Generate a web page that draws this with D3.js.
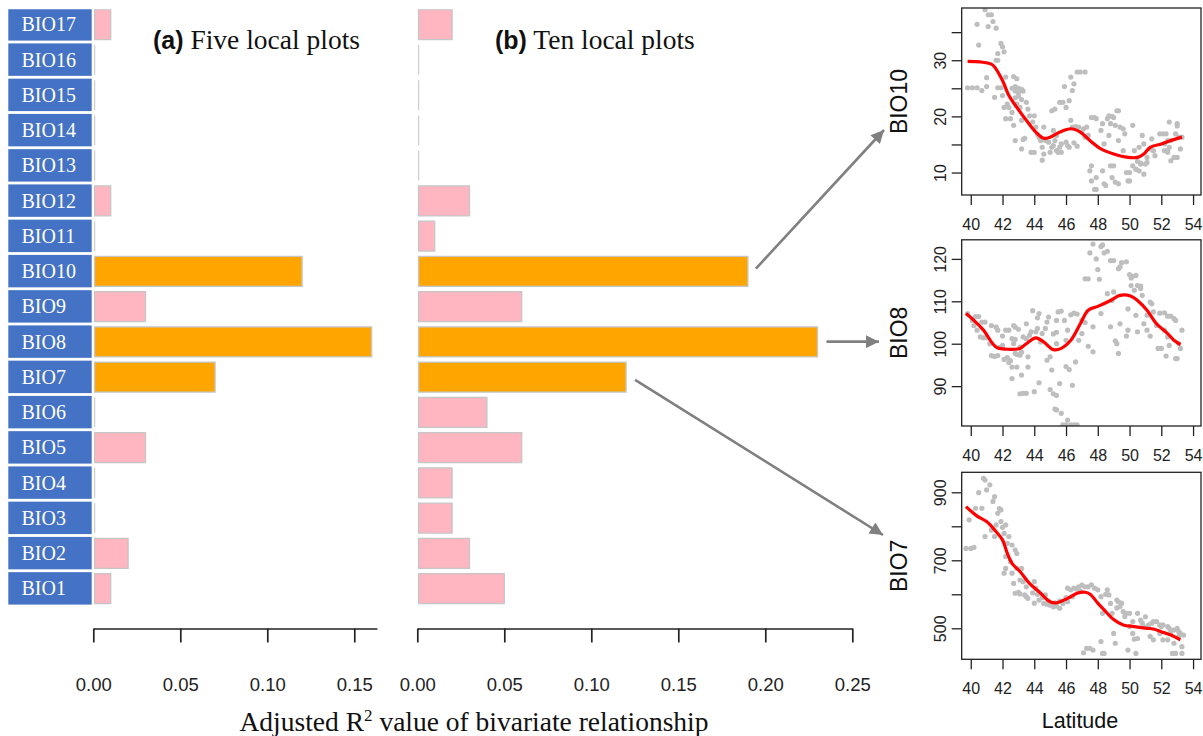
<!DOCTYPE html>
<html><head><meta charset="utf-8">
<script src="https://cdn.jsdelivr.net/npm/d3@7"></script>
<style>body{margin:0;background:#fff}svg{display:block}</style>
</head><body>
<svg id="c" width="1203" height="736"></svg>
<script>
// ---------- data ----------
const categories = ["BIO17","BIO16","BIO15","BIO14","BIO13","BIO12","BIO11","BIO10","BIO9","BIO8","BIO7","BIO6","BIO5","BIO4","BIO3","BIO2","BIO1"];
const fivePlots = [0.01,0,0,0,0,0.01,0,0.12,0.03,0.16,0.07,0,0.03,0,0,0.02,0.01];
const tenPlots  = [0.02,0,0,0,0,0.03,0.01,0.19,0.06,0.23,0.12,0.04,0.06,0.02,0.02,0.03,0.05];
const highlighted = ["BIO10","BIO8","BIO7"];
const ticksA = [0,0.05,0.10,0.15];
const ticksB = [0,0.05,0.10,0.15,0.20,0.25];
const latTicks = [40,42,44,46,48,50,52,54];

const bio10Ticks = [10,15,20,25,30,35];
const bio10Labels = [10,20,30];
const bio8Ticks = [90,100,110,120];
const bio8Labels = [90,100,110,120];
const bio7Ticks = [500,600,700,800,900];
const bio7Labels = [500,700,900];

const bio10Points = [[39.8,25.1],[40.1,25.1],[40.4,25.1],[40.4,36.4],[40.5,32.7],[40.7,24.6],[41.0,26.9],[41.0,25.3],[40.9,39.0],[41.1,38.1],[41.3,38.1],[41.1,36.0],[41.4,36.9],[41.6,35.7],[41.5,23.4],[41.7,25.1],[41.9,33.0],[42.0,32.4],[42.1,31.5],[41.7,31.2],[41.6,30.0],[41.7,30.0],[41.9,25.1],[42.2,27.0],[42.0,23.7],[42.1,21.6],[42.3,22.2],[42.4,21.6],[42.2,19.6],[42.5,19.6],[42.6,20.7],[42.7,27.1],[42.9,26.7],[42.6,25.0],[42.8,25.3],[43.0,25.0],[42.8,24.5],[43.0,24.2],[43.2,24.8],[43.3,24.5],[42.8,23.3],[43.0,23.6],[43.2,23.0],[42.9,22.2],[43.1,21.6],[42.7,18.4],[42.8,15.7],[43.2,19.3],[43.3,15.9],[43.4,16.1],[43.2,14.2],[43.5,22.5],[43.6,21.3],[43.7,20.1],[43.9,19.0],[44.0,20.1],[43.8,13.6],[44.0,13.6],[44.2,16.8],[44.3,16.3],[44.4,15.7],[44.1,18.1],[44.6,18.1],[44.5,14.5],[44.6,13.3],[44.5,12.2],[44.7,15.7],[44.9,15.4],[45.1,21.0],[45.3,21.3],[45.2,17.5],[45.1,14.5],[45.2,14.8],[45.0,13.6],[45.4,13.9],[45.5,13.6],[45.6,14.5],[45.3,15.7],[45.4,16.6],[45.7,15.1],[45.6,22.5],[45.8,22.5],[45.9,25.3],[46.0,21.6],[46.2,22.8],[45.7,13.6],[46.0,15.4],[46.1,14.8],[46.2,14.5],[46.3,27.0],[46.4,24.6],[46.5,25.8],[46.3,19.3],[46.4,18.1],[46.6,18.2],[46.8,18.1],[46.5,15.3],[46.7,14.7],[46.7,27.9],[46.9,27.9],[47.2,27.9],[47.0,17.2],[47.1,17.8],[47.2,16.3],[47.3,18.1],[47.4,16.6],[47.6,19.8],[47.8,19.8],[47.6,11.2],[47.5,10.3],[47.6,8.5],[47.8,7.0],[47.9,7.0],[47.9,19.6],[47.9,9.1],[48.2,17.5],[48.3,18.7],[48.3,10.3],[48.4,8.0],[48.5,7.7],[48.6,19.6],[48.7,20.1],[48.9,20.0],[49.0,19.8],[48.8,18.7],[48.4,15.1],[48.7,16.6],[48.8,11.2],[49.0,11.2],[48.9,9.1],[49.1,18.4],[49.2,21.0],[49.3,21.0],[49.3,15.7],[49.1,8.3],[49.3,8.0],[49.4,18.1],[49.6,17.8],[49.8,10.0],[50.0,10.0],[49.6,13.9],[49.9,8.5],[50.0,8.5],[49.7,16.9],[50.2,18.4],[50.3,13.9],[50.2,11.2],[50.4,10.6],[50.6,10.3],[50.5,12.0],[50.7,11.7],[50.7,11.5],[50.6,14.5],[50.8,16.6],[50.9,15.1],[51.0,11.5],[51.1,11.8],[50.9,9.7],[51.1,12.7],[51.3,14.2],[51.5,13.9],[51.4,16.0],[51.6,13.0],[51.9,16.9],[52.1,16.9],[52.3,16.9],[52.2,15.1],[52.4,15.7],[52.2,13.9],[52.4,13.9],[52.5,14.5],[52.4,13.6],[52.5,19.0],[52.6,15.7],[52.6,12.1],[52.8,12.7],[53.0,18.7],[53.0,18.3],[52.9,16.9],[53.0,12.7],[53.1,16.3],[53.2,14.2],[53.3,16.3]];
const bio10Curve = [[39.8,29.8],[40.6,29.7],[41.3,29.3],[41.5,28.8],[42.0,26.4],[42.4,23.7],[42.9,21.6],[43.5,19.3],[44.1,17.2],[44.6,16.1],[45.0,16.3],[45.6,17.2],[46.3,17.8],[46.9,17.2],[47.5,15.7],[48.2,14.2],[49.0,13.3],[49.9,12.7],[50.5,12.7],[50.9,13.3],[51.3,14.5],[52.0,15.1],[52.6,15.7],[53.3,16.3]];

const bio8Points = [[39.8,107.1],[40.1,105.5],[40.3,106.4],[40.5,106.4],[40.2,104.3],[40.4,103.2],[40.7,105.1],[40.9,105.1],[40.6,101.6],[40.8,101.4],[41.0,101.4],[41.2,100.0],[41.3,104.3],[41.6,103.9],[41.3,97.2],[41.5,97.0],[41.7,97.2],[41.7,103.2],[41.8,99.1],[42.0,99.6],[42.0,101.8],[42.1,96.3],[42.3,96.7],[42.2,103.2],[42.4,95.6],[42.5,96.0],[42.4,103.2],[42.6,94.5],[42.7,104.3],[42.8,103.9],[42.6,101.2],[42.8,101.0],[42.7,100.0],[42.9,97.5],[43.1,97.3],[42.8,97.7],[42.6,91.8],[42.9,94.5],[43.0,103.4],[43.1,99.2],[43.2,98.0],[43.1,88.2],[43.3,88.3],[43.5,88.3],[43.2,92.6],[43.3,101.6],[43.5,104.7],[43.5,101.2],[43.7,102.0],[43.8,102.8],[43.9,107.8],[43.6,96.9],[43.6,94.5],[44.0,88.7],[44.1,102.8],[44.2,103.6],[44.2,106.1],[44.3,107.1],[44.4,100.4],[44.5,102.4],[44.3,90.8],[44.7,103.6],[44.8,105.1],[44.9,106.3],[44.8,96.1],[45.0,96.9],[45.1,93.8],[45.0,89.2],[45.2,88.2],[45.4,87.8],[45.2,102.3],[45.4,102.7],[45.4,105.5],[45.5,107.5],[45.7,107.7],[45.4,100.0],[45.6,90.6],[45.3,84.6],[45.4,84.4],[45.7,83.6],[45.8,80.9],[46.0,80.9],[46.1,82.0],[46.3,80.9],[46.5,80.9],[46.7,80.9],[46.0,94.6],[46.2,93.9],[45.9,105.5],[46.1,103.2],[46.0,100.8],[46.3,106.8],[46.5,107.2],[46.7,107.0],[46.4,90.2],[46.6,95.7],[46.8,100.8],[47.0,102.4],[47.0,105.5],[47.2,105.0],[47.2,115.3],[47.4,115.3],[47.4,99.4],[47.5,121.4],[47.7,123.5],[47.9,120.0],[48.0,117.5],[48.1,115.2],[47.7,98.1],[47.7,104.0],[48.2,107.1],[48.2,122.9],[48.3,123.3],[48.4,121.4],[48.6,121.8],[48.8,104.0],[48.6,111.8],[48.8,119.6],[49.0,119.6],[48.9,110.2],[49.0,112.2],[49.1,100.7],[49.2,100.0],[49.3,97.7],[49.3,117.7],[49.4,118.1],[49.4,104.7],[49.5,119.1],[49.8,119.3],[49.9,108.2],[49.9,103.2],[49.8,101.8],[50.0,116.3],[50.1,115.5],[50.1,113.7],[50.2,115.9],[50.4,116.1],[50.3,112.6],[50.4,106.7],[50.5,102.8],[50.5,113.7],[50.7,113.6],[50.7,113.0],[50.8,111.4],[50.9,104.7],[51.1,106.7],[51.1,103.2],[51.3,101.8],[51.3,109.8],[51.4,109.4],[51.5,107.5],[51.7,104.3],[51.8,98.9],[52.0,98.9],[51.9,107.2],[52.2,107.3],[52.2,103.2],[52.4,106.5],[52.6,106.5],[52.4,101.6],[52.3,97.1],[52.5,99.6],[52.8,105.9],[52.9,105.5],[52.9,96.5],[53.0,96.5],[53.1,100.0],[53.2,98.9],[53.3,103.2]];
const bio8Curve = [[39.7,107.1],[40.2,105.5],[40.8,103.2],[41.6,99.2],[42.3,98.7],[43.1,98.9],[43.5,100.0],[44.1,101.4],[44.6,100.4],[45.2,98.6],[45.7,98.9],[46.3,100.8],[46.9,104.7],[47.4,107.9],[48.0,108.8],[48.8,110.2],[49.4,111.4],[50.1,111.2],[50.5,110.2],[51.1,107.9],[51.7,104.7],[52.4,102.4],[52.8,100.8],[53.2,99.8]];

const bio7Points = [[39.7,735],[40.0,735],[40.2,738],[39.9,819],[40.3,853],[40.5,899],[40.8,941],[40.7,853],[40.9,770],[40.9,936],[41.0,907],[41.2,922],[41.4,873],[41.3,789],[41.5,887],[41.6,804],[41.5,770],[41.7,838],[41.8,852],[41.9,848],[41.9,814],[42.1,779],[42.2,804],[42.0,797],[42.3,750],[42.2,711],[42.1,662],[42.2,676],[42.4,770],[42.6,745],[42.8,730],[42.9,720],[42.5,696],[42.6,662],[42.7,632],[42.9,676],[42.8,603],[43.0,606],[43.1,601],[43.1,642],[43.2,676],[43.3,637],[43.4,598],[43.5,593],[43.5,622],[43.6,588],[43.9,604],[44.0,574],[44.0,637],[44.1,618],[44.3,583],[44.6,573],[44.8,571],[44.7,598],[45.0,568],[45.2,563],[45.4,565],[45.6,559],[45.8,573],[46.1,618],[46.3,613],[46.5,618],[46.7,615],[46.1,578],[46.4,593],[46.8,622],[47.0,627],[47.2,622],[47.4,622],[47.3,441],[47.5,441],[47.7,436],[47.1,428],[48.0,613],[48.2,593],[48.3,544],[48.2,461],[48.3,426],[48.4,426],[48.6,613],[48.7,598],[48.8,573],[48.9,544],[49.0,485],[49.1,456],[49.2,583],[49.3,578],[49.4,564],[49.5,574],[49.6,549],[49.8,544],[50.0,544],[50.0,505],[50.2,485],[49.9,436],[50.3,468],[50.5,470],[50.4,426],[50.5,544],[50.7,524],[50.9,505],[51.0,534],[51.2,510],[51.3,476],[51.5,466],[51.5,520],[51.7,520],[51.9,510],[52.1,510],[51.9,485],[52.1,466],[52.4,505],[52.4,466],[52.6,490],[52.7,426],[52.9,426],[52.8,456],[53.0,500],[53.1,476],[53.3,446],[53.3,426],[53.2,485],[44.2,600],[44.5,590],[44.9,580],[45.3,575],[45.6,580],[46.0,590],[46.9,610],[47.6,628],[47.8,618],[48.5,600],[49.2,560],[49.7,535],[50.2,520],[50.8,515],[51.4,515],[52.0,505],[52.5,500],[52.8,495],[53.1,490],[53.4,480]];
const bio7Curve = [[39.7,858],[40.4,830],[41.0,814],[41.6,784],[42.0,760],[42.3,721],[42.6,691],[43.1,667],[43.7,632],[44.4,603],[45.0,578],[45.4,575],[46.1,588],[46.7,603],[47.2,606],[47.5,601],[48.0,574],[48.4,554],[49.0,526],[49.6,510],[50.3,505],[51.1,500],[51.5,498],[52.0,490],[52.6,480],[53.2,466]];

// ---------- drawing ----------
const SERIF = "'Liberation Serif','Times New Roman',serif";
const SANS = "'Liberation Sans',Arial,sans-serif";
const svg = d3.select("#c");
const defs = svg.append("defs");
defs.append("clipPath").attr("id","clipTop").append("rect").attr("x",0).attr("y",9.3).attr("width",900).attr("height",700);
defs.append("marker").attr("id","arr").attr("viewBox","0 0 10 10").attr("refX",10).attr("refY",5)
  .attr("markerWidth",6).attr("markerHeight",5).attr("markerUnits","strokeWidth").attr("orient","auto")
  .append("path").attr("d","M0,0 L10,5 L0,10 Z").attr("fill","#808080");

const y = d3.scaleBand().domain(categories).range([6.75, 606]).paddingInner(0.08).paddingOuter(0.04);
const xA = d3.scaleLinear().domain([0, 0.163]).range([93.3, 376.9]);
const xB = d3.scaleLinear().domain([0, 0.25]).range([417.3, 852.3]);

const left = svg.append("g").attr("clip-path","url(#clipTop)");
left.append("g").selectAll("rect").data(categories).join("rect")
  .attr("x",8.3).attr("y",d=>y(d)).attr("width",83.4).attr("height",y.bandwidth()).attr("fill","#4472C4");
left.append("g").selectAll("text").data(categories).join("text")
  .attr("x",21.5).attr("y",d=>y(d)+y.bandwidth()/2+7).attr("fill","#fff")
  .attr("font-family",SERIF).attr("font-size",20).text(d=>d);

function drawBars(vals, x){
  const data = categories.map((c,i)=>({c, v: vals[i]}));
  const g = left.append("g");
  g.selectAll("rect").data(data.filter(d=>d.v>0)).join("rect")
    .attr("x", x(0)+1.3).attr("y", d=>y(d.c)+1.5)
    .attr("width", d=>x(d.v)-x(0)-1.3).attr("height", y.bandwidth()-2.5)
    .attr("fill", d=>highlighted.includes(d.c) ? "#FFA500" : "#FFB6C1")
    .attr("stroke","#C6C6C6").attr("stroke-width",1.3);
  g.selectAll("line").data(data.filter(d=>d.v===0)).join("line")
    .attr("x1", x(0)+1.3).attr("x2", x(0)+1.3)
    .attr("y1", d=>y(d.c)+1.5).attr("y2", d=>y(d.c)+y.bandwidth()-1)
    .attr("stroke","#CFCFCF").attr("stroke-width",1.3);
}
drawBars(fivePlots, xA);
drawBars(tenPlots, xB);

function drawAxis(x, ticks){
  const g = svg.append("g").attr("transform","translate(0,628.5)")
    .call(d3.axisBottom(x).tickValues(ticks).tickSize(14).tickSizeOuter(0).tickFormat(d3.format(".2f")));
  g.select(".domain").attr("stroke","#222").attr("stroke-width",1.7);
  g.selectAll(".tick line").attr("stroke","#222").attr("stroke-width",1.7);
  g.selectAll(".tick text").attr("y",62).attr("dy",0).attr("font-family",SANS).attr("font-size",18.5).attr("fill","#222");
}
drawAxis(xA, ticksA);
drawAxis(xB, ticksB);

// panel titles
function title(x, tag, txt){
  const t = svg.append("text").attr("x",x).attr("y",48.5).attr("fill","#111");
  t.append("tspan").attr("font-family",SANS).attr("font-weight","bold").attr("font-size",25).text(tag);
  t.append("tspan").attr("font-family",SERIF).attr("font-size",27.5).text(" " + txt);
}
title(153, "(a)", "Five local plots");
title(495, "(b)", "Ten local plots");

// x-axis title
const xt = svg.append("text").attr("x",474).attr("y",731).attr("text-anchor","middle")
  .attr("font-family",SERIF).attr("font-size",27.5).attr("fill","#111");
xt.append("tspan").text("Adjusted R");
xt.append("tspan").attr("font-size",17).attr("dy",-10).text("2");
xt.append("tspan").attr("dy",10).text(" value of bivariate relationship");

// ---------- scatter panels ----------
const xS = d3.scaleLinear().domain([39.43, 54.5]).range([961.7, 1201]);
const panels = [
  {name:"BIO10", pts:bio10Points, curve:bio10Curve, dom:[6.0,39.3], top:8, bottom:195, ticks:bio10Ticks, labels:bio10Labels},
  {name:"BIO8",  pts:bio8Points,  curve:bio8Curve,  dom:[80.6,124.5], top:239.8, bottom:426, ticks:bio8Ticks, labels:bio8Labels},
  {name:"BIO7",  pts:bio7Points,  curve:bio7Curve,  dom:[408.8,958.8], top:472.3, bottom:659.3, ticks:bio7Ticks, labels:bio7Labels}
];
panels.forEach((p,i)=>{
  const yS = d3.scaleLinear().domain(p.dom).range([p.bottom, p.top]);
  const g = svg.append("g");
  const cid = "clipS"+i;
  defs.append("clipPath").attr("id",cid).append("rect")
    .attr("x",xS.range()[0]).attr("y",p.top).attr("width",xS.range()[1]-xS.range()[0]).attr("height",p.bottom-p.top);
  const inner = g.append("g").attr("clip-path",`url(#${cid})`);
  inner.selectAll("circle").data(p.pts).join("circle")
    .attr("cx",d=>xS(d[0])).attr("cy",d=>yS(d[1])).attr("r",2.6).attr("fill","#BEBEBE");
  inner.append("path").datum(p.curve)
    .attr("d", d3.line().x(d=>xS(d[0])).y(d=>yS(d[1])).curve(d3.curveCatmullRom))
    .attr("fill","none").attr("stroke","#FF0000").attr("stroke-width",3.2);
  g.append("rect").attr("x",xS.range()[0]).attr("y",p.top).attr("width",xS.range()[1]-xS.range()[0]).attr("height",p.bottom-p.top)
    .attr("fill","none").attr("stroke","#222").attr("stroke-width",1.3);
  // x axis
  const xa = g.append("g").attr("transform",`translate(0,${p.bottom})`)
    .call(d3.axisBottom(xS).tickValues(latTicks).tickSize(10).tickSizeOuter(0));
  xa.select(".domain").remove();
  xa.selectAll(".tick line").attr("stroke","#222").attr("stroke-width",1.3);
  xa.selectAll(".tick text").attr("y",29).attr("dy","0.35em").attr("font-family",SANS).attr("font-size",16).attr("fill","#222");
  // y axis
  const ya = g.append("g").attr("transform",`translate(${xS.range()[0]},0)`)
    .call(d3.axisLeft(yS).tickValues(p.ticks).tickSize(10).tickSizeOuter(0)
      .tickFormat(d=>p.labels.includes(d) ? String(d) : ""));
  ya.select(".domain").remove();
  ya.selectAll(".tick line").attr("stroke","#222").attr("stroke-width",1.3);
  ya.selectAll(".tick text").attr("x",0).attr("dy",0).attr("transform","translate(-16,0) rotate(-90)")
    .attr("text-anchor","middle").attr("font-family",SANS).attr("font-size",16).attr("fill","#222");
  // y label
  g.append("text").attr("transform",`translate(907,${(p.top+p.bottom)/2}) rotate(-90)`)
    .attr("text-anchor","middle").attr("font-family",SANS).attr("font-size",23).attr("fill","#111").text(p.name);
});
svg.append("text").attr("x",1080).attr("y",728).attr("text-anchor","middle")
  .attr("font-family",SANS).attr("font-size",21.5).attr("fill","#111").text("Latitude");

// ---------- arrows (annotation, anchored to bar ends) ----------
const mid = c => y(c) + y.bandwidth()/2;
const arrows = [
  {from:[xB(0.19)+8, mid("BIO10")-2.5], to:[884,130]},
  {from:[xB(0.23)+9, mid("BIO8")], to:[879, mid("BIO8")]},
  {from:[xB(0.12)+9, mid("BIO7")+3], to:[883,535]}
];
svg.append("g").selectAll("line").data(arrows).join("line")
  .attr("x1",d=>d.from[0]).attr("y1",d=>d.from[1]).attr("x2",d=>d.to[0]).attr("y2",d=>d.to[1])
  .attr("stroke","#808080").attr("stroke-width",2.6).attr("marker-end","url(#arr)");
</script>
</body></html>
